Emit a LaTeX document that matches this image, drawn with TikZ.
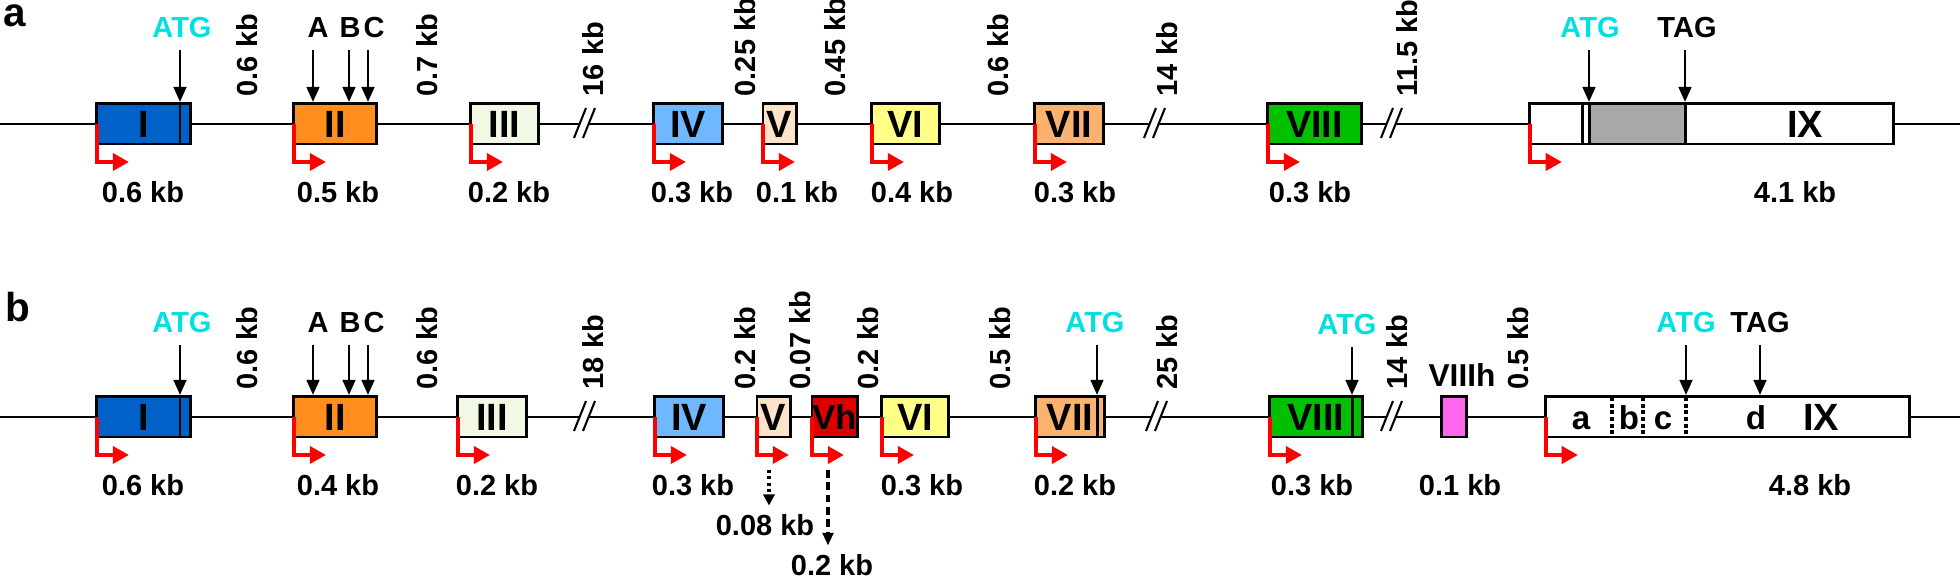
\documentclass[tikz,border=0pt]{standalone}
\usepackage{fontspec}
\setmainfont{Liberation Sans}
\usepackage{xcolor}
\usetikzlibrary{
  arrows.meta,
  positioning,
  calc
}

\definecolor{exI}{HTML}{0062C8}
\definecolor{exII}{HTML}{FF8E1E}
\definecolor{exIII}{HTML}{F1F8E3}
\definecolor{exIV}{HTML}{6FB7FF}
\definecolor{exV}{HTML}{FCE3CA}
\definecolor{exVh}{HTML}{DC0000}
\definecolor{exVI}{HTML}{FFFF88}
\definecolor{exVII}{HTML}{F9B36F}
\definecolor{exVIII}{HTML}{00C000}
\definecolor{exVIIIh}{HTML}{FF66EE}
\definecolor{cdsgrey}{HTML}{A8A8A8}
\definecolor{atgcyan}{HTML}{00E0E0}

% intron break mark on the backbone
\newcommand{\gapmark}[1]{%
  \fill[white] (#1-11,14) -- (#1+1,-16) -- (#1+10,-16) -- (#1-2,14) -- cycle;
  \draw[backbone] (#1-11,14) -- (#1+1,-16) (#1-2,14) -- (#1+10,-16);
}

\begin{document}
\begin{tikzpicture}[
  x=0.01cm, y=-0.01cm,
  font=\bfseries\fontsize{8.25}{10}\selectfont,
  panelmark/.style={inner sep=0pt, anchor=base west, font=\bfseries\fontsize{11.5}{14}\selectfont},
  backbone/.style={draw=black, line width=0.6pt},
  exon/.style={draw=black, line width=0.85pt, inner sep=0pt, outer sep=0pt, minimum height=0.4cm, font=\bfseries\fontsize{10.8}{12}\selectfont},
  cutline/.style={draw=black, line width=0.85pt},
  splitline/.style={draw=black, line width=1.1pt, dash pattern=on 1.1pt off 0.8pt},
  pin/.style={draw=black, line width=0.75pt, -{Triangle[length=4.3pt, width=3.6pt]}},
  tss/.style={draw=red, line width=1.15pt, -{Triangle[length=4.6pt, width=4.8pt]}},
  altshort/.style={draw=black, line width=0.9pt, dash pattern=on 0.9pt off 0.9pt, shorten >=2.3pt, -{Triangle[length=3.2pt, width=3.2pt]}},
  altlong/.style={draw=black, line width=1.2pt, dash pattern=on 2.2pt off 1.3pt, shorten >=2.3pt, -{Triangle[length=3.6pt, width=3pt]}},
  toplbl/.style={inner sep=0pt, outer ysep=3.3pt},
  atglbl/.style={toplbl, text=atgcyan},
  kb/.style={inner sep=0pt},
  kbup/.style={inner sep=0pt, rotate=90, anchor=west},
  sublbl/.style={inner sep=0pt, anchor=base, font=\bfseries\fontsize{9.4}{11}\selectfont},
  biglbl/.style={inner sep=0pt, font=\bfseries\fontsize{10.8}{12}\selectfont},
  midlbl/.style={inner sep=0pt, font=\bfseries\fontsize{9}{11}\selectfont}
]
\useasboundingbox (0,0) rectangle (1960,577);

% ============ PANEL a ============
\node[panelmark] (pa) at (3,27) {a};
\begin{scope}[shift={(0,124)}]
  \coordinate (aL) at (0,0);
  \coordinate (aR) at (1960,0);
  \draw[backbone] (aL) -- (aR);
  \gapmark{585} \gapmark{1155} \gapmark{1392}
  % exons
  \node[exon, fill=exI,    minimum width=0.93cm] (aI)    at (143.5,0) {I};
  \node[exon, fill=exII,   minimum width=0.82cm] (aII)   at (335,0)   {II};
  \node[exon, fill=exIII,  minimum width=0.67cm] (aIII)  at (504.5,0) {III};
  \node[exon, fill=exIV,   minimum width=0.68cm] (aIV)   at (688,0)   {IV};
  \node[exon, fill=exV,    minimum width=0.33cm] (aV)    at (779.5,0) {V};
  \node[exon, fill=exVI,   minimum width=0.67cm] (aVI)   at (905.5,0) {VI};
  \node[exon, fill=exVII,  minimum width=0.68cm] (aVII)  at (1069,0)  {VII};
  \node[exon, fill=exVIII, minimum width=0.93cm] (aVIII) at (1314.5,0) {VIII};
  \node[exon, fill=white,  minimum width=3.63cm] (aIX)   at (1711.5,0) {};
  % coding part and cut marks
  \coordinate (aIatg) at (180,-22);
  \coordinate (aIXutr) at (1582,-22);
  \coordinate (aIXatg) at (1589,-22);
  \coordinate (aIXtag) at (1685,-22);
  \draw[cutline] (aIatg |- aI.north) -- (aIatg |- aI.south);
  \draw[cutline] (aIXutr |- aIX.north) -- (aIXutr |- aIX.south);
  \draw[cutline, fill=cdsgrey] (aIXatg |- aIX.north) rectangle (aIXtag |- aIX.south);
  \node[biglbl] (aIXt) at (1805,0) {IX};
  % codons and sites
  \node[atglbl] (aATGI) at (182,-96) {ATG};
  \draw[pin] (aATGI.south -| aIatg) -- (aIatg);
  \coordinate (aAt) at (313,-22);
  \coordinate (aBt) at (349,-22);
  \coordinate (aCt) at (368,-22);
  \node[toplbl] (aA) at (318,-96) {A};
  \node[toplbl] (aB) at (350,-96) {B};
  \node[toplbl] (aC) at (374,-96) {C};
  \draw[pin] (aA.south -| aAt) -- (aAt);
  \draw[pin] (aB.south -| aBt) -- (aBt);
  \draw[pin] (aC.south -| aCt) -- (aCt);
  \node[atglbl] (aATGIX) at (1590,-96) {ATG};
  \draw[pin] (aATGIX.south -| aIXatg) -- (aIXatg);
  \node[toplbl] (aTAG) at (1687,-96) {TAG};
  \draw[pin] (aTAG.south -| aIXtag) -- (aIXtag);
  % intron sizes
  \node[kbup] (ag1) at (247,-27)  {0.6 kb};
  \node[kbup] (ag2) at (427,-27)  {0.7 kb};
  \node[kbup] (ag3) at (593,-27)  {16 kb};
  \node[kbup] (ag4) at (745,-27)  {0.25 kb};
  \node[kbup] (ag5) at (835,-27)  {0.45 kb};
  \node[kbup] (ag6) at (998,-27)  {0.6 kb};
  \node[kbup] (ag7) at (1167,-27) {14 kb};
  \node[kbup] (ag8) at (1407,-27) {11.5 kb};
  % start sites
  \draw[tss] (aI.west) -- ++(0,38) -- ++(32,0);
  \draw[tss] (aII.west) -- ++(0,38) -- ++(32,0);
  \draw[tss] (aIII.west) -- ++(0,38) -- ++(32,0);
  \draw[tss] (aIV.west) -- ++(0,38) -- ++(32,0);
  \draw[tss] (aV.west) -- ++(0,38) -- ++(32,0);
  \draw[tss] (aVI.west) -- ++(0,38) -- ++(32,0);
  \draw[tss] (aVII.west) -- ++(0,38) -- ++(32,0);
  \draw[tss] (aVIII.west) -- ++(0,38) -- ++(32,0);
  \draw[tss] (aIX.west) -- ++(0,38) -- ++(32,0);
  % exon sizes
  \node[kb] (as1) at (143,68)  {0.6 kb};
  \node[kb] (as2) at (338,68)  {0.5 kb};
  \node[kb] (as3) at (509,68)  {0.2 kb};
  \node[kb] (as4) at (692,68)  {0.3 kb};
  \node[kb] (as5) at (797,68)  {0.1 kb};
  \node[kb] (as6) at (912,68)  {0.4 kb};
  \node[kb] (as7) at (1075,68) {0.3 kb};
  \node[kb] (as8) at (1310,68) {0.3 kb};
  \node[kb] (as9) at (1795,68) {4.1 kb};
\end{scope}

% ============ PANEL b ============
\node[panelmark] (pb) at (5,322) {b};
\begin{scope}[shift={(0,417)}]
  \coordinate (bL) at (0,0);
  \coordinate (bR) at (1960,0);
  \draw[backbone] (bL) -- (bR);
  \gapmark{585} \gapmark{1157} \gapmark{1392}
  % exons
  \node[exon, fill=exI,     minimum width=0.93cm] (bI)     at (143.5,0) {I};
  \node[exon, fill=exII,    minimum width=0.82cm] (bII)    at (335,0)   {II};
  \node[exon, fill=exIII,   minimum width=0.68cm] (bIII)   at (492,0)   {III};
  \node[exon, fill=exIV,    minimum width=0.68cm] (bIV)    at (689,0)   {IV};
  \node[exon, fill=exV,     minimum width=0.33cm] (bV)     at (773.5,0) {V};
  \node[exon, fill=exVh,    minimum width=0.45cm, font=\bfseries\fontsize{9.8}{12}\selectfont] (bVh) at (834.5,0) {Vh};
  \node[exon, fill=exVI,    minimum width=0.66cm] (bVI)    at (915,0)   {VI};
  \node[exon, fill=exVII,   minimum width=0.68cm] (bVII)   at (1070,0)  {VII};
  \node[exon, fill=exVIII,  minimum width=0.92cm] (bVIII)  at (1316,0)  {VIII};
  \node[exon, fill=exVIIIh, minimum width=0.25cm] (bVIIIh) at (1453.5,0) {};
  \node[exon, fill=white,   minimum width=3.63cm] (bIX)    at (1727.5,0) {};
  \node[midlbl] (bVIIIht) at (1462,-42) {VIIIh};
  % cut marks and splits
  \coordinate (bIatg) at (180,-22);
  \coordinate (bVIIatg) at (1097,-22);
  \coordinate (bVIIIatg) at (1352,-22);
  \coordinate (bIXatg) at (1686,-22);
  \coordinate (bIXtag) at (1760,-22);
  \draw[cutline] (bIatg |- bI.north) -- (bIatg |- bI.south);
  \draw[cutline] (bVIIatg |- bVII.north) -- (bVIIatg |- bVII.south);
  \draw[cutline] (bVIIIatg |- bVIII.north) -- (bVIIIatg |- bVIII.south);
  \draw[splitline] (1612,-20) -- (1612,20);
  \draw[splitline] (1643,-20) -- (1643,20);
  \draw[splitline] (bIXatg |- bIX.north) -- (bIXatg |- bIX.south);
  \node[sublbl] (bIXa) at (1581,13) {a};
  \node[sublbl] (bIXb) at (1629,13) {b};
  \node[sublbl] (bIXc) at (1663,13) {c};
  \node[sublbl] (bIXd) at (1756,13) {d};
  \node[biglbl] (bIXt) at (1821,0) {IX};
  % codons and sites
  \node[atglbl] (bATGI) at (182,-94) {ATG};
  \draw[pin] (bATGI.south -| bIatg) -- (bIatg);
  \coordinate (bAt) at (313,-22);
  \coordinate (bBt) at (349,-22);
  \coordinate (bCt) at (368,-22);
  \node[toplbl] (bA) at (318,-94) {A};
  \node[toplbl] (bB) at (350,-94) {B};
  \node[toplbl] (bC) at (374,-94) {C};
  \draw[pin] (bA.south -| bAt) -- (bAt);
  \draw[pin] (bB.south -| bBt) -- (bBt);
  \draw[pin] (bC.south -| bCt) -- (bCt);
  \node[atglbl] (bATGVII) at (1095,-94) {ATG};
  \draw[pin] (bATGVII.south -| bVIIatg) -- (bVIIatg);
  \node[atglbl] (bATGVIII) at (1347,-92) {ATG};
  \draw[pin] (bATGVIII.south -| bVIIIatg) -- (bVIIIatg);
  \node[atglbl] (bATGIX) at (1686,-94) {ATG};
  \draw[pin] (bATGIX.south -| bIXatg) -- (bIXatg);
  \node[toplbl] (bTAG) at (1760,-94) {TAG};
  \draw[pin] (bTAG.south -| bIXtag) -- (bIXtag);
  % intron sizes
  \node[kbup] (bg1) at (247,-27)  {0.6 kb};
  \node[kbup] (bg2) at (427,-27)  {0.6 kb};
  \node[kbup] (bg3) at (593,-27)  {18 kb};
  \node[kbup] (bg4) at (745,-27)  {0.2 kb};
  \node[kbup] (bg5) at (800,-27)  {0.07 kb};
  \node[kbup] (bg6) at (868,-27)  {0.2 kb};
  \node[kbup] (bg7) at (1000,-27) {0.5 kb};
  \node[kbup] (bg8) at (1167,-27) {25 kb};
  \node[kbup] (bg9) at (1397,-27) {14 kb};
  \node[kbup] (bg10) at (1518,-27) {0.5 kb};
  % start sites
  \draw[tss] (bI.west) -- ++(0,38) -- ++(32,0);
  \draw[tss] (bII.west) -- ++(0,38) -- ++(32,0);
  \draw[tss] (bIII.west) -- ++(0,38) -- ++(32,0);
  \draw[tss] (bIV.west) -- ++(0,38) -- ++(32,0);
  \draw[tss] (bV.west) -- ++(0,38) -- ++(32,0);
  \draw[tss] (bVh.west) -- ++(0,38) -- ++(32,0);
  \draw[tss] (bVI.west) -- ++(0,38) -- ++(32,0);
  \draw[tss] (bVII.west) -- ++(0,38) -- ++(32,0);
  \draw[tss] (bVIII.west) -- ++(0,38) -- ++(32,0);
  \draw[tss] (bIX.west) -- ++(0,38) -- ++(32,0);
  % exon sizes
  \node[kb] (bs1) at (143,68)  {0.6 kb};
  \node[kb] (bs2) at (338,68)  {0.4 kb};
  \node[kb] (bs3) at (497,68)  {0.2 kb};
  \node[kb] (bs4) at (693,68)  {0.3 kb};
  \node[kb] (bs5) at (922,68)  {0.3 kb};
  \node[kb] (bs6) at (1075,68) {0.2 kb};
  \node[kb] (bs7) at (1312,68) {0.3 kb};
  \node[kb] (bs8) at (1460,68) {0.1 kb};
  \node[kb] (bs9) at (1810,68) {4.8 kb};
  % alternative ends
  \coordinate (bValt) at (769,53);
  \coordinate (bVhalt) at (828,53);
  \node[kb] (bs10) at (765,108) {0.08 kb};
  \node[kb] (bs11) at (832,148) {0.2 kb};
  \draw[altshort] (bValt) -- (bValt |- bs10.north);
  \draw[altlong] (bVhalt) -- (bVhalt |- bs11.north);
\end{scope}

\end{tikzpicture}
\end{document}
